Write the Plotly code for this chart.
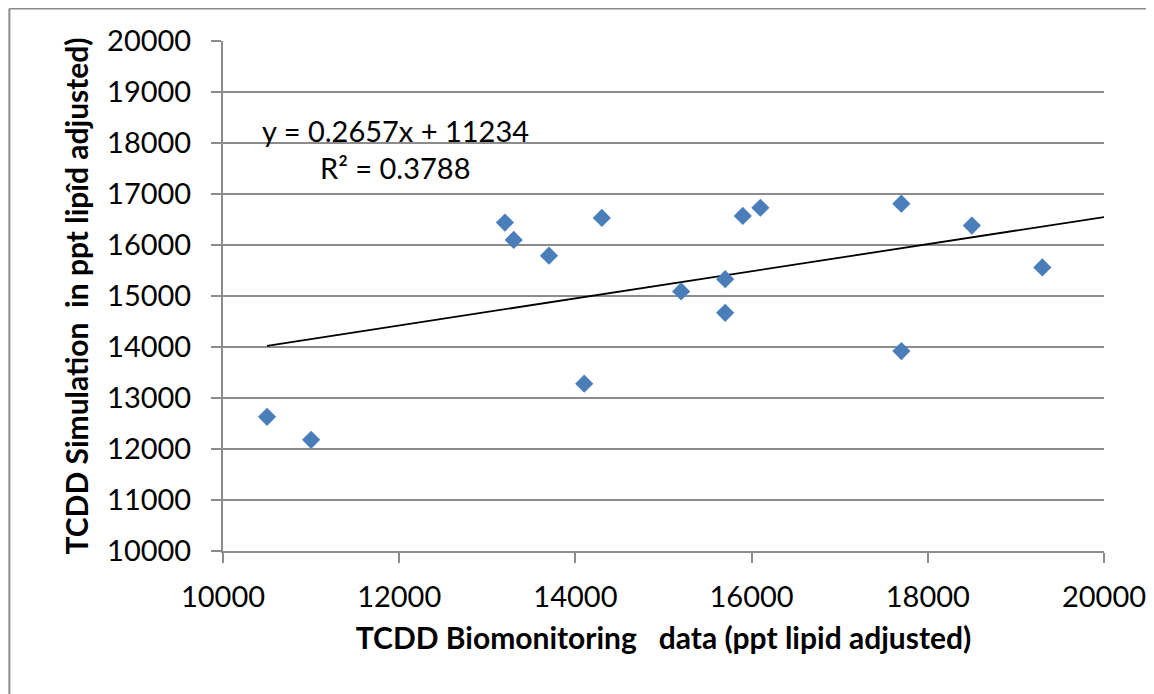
import plotly.graph_objects as go

# biomonitoring (x) vs simulation (y), ppt lipid adjusted
biomonitoring = [10500, 11000, 13200, 13300, 13700, 14100, 14300, 15200, 15700, 15700,
                 15900, 16100, 17700, 17700, 18500, 19300]
simulation = [12630, 12180, 16440, 16100, 15790, 13280, 16530, 15090, 15330, 14670,
              16570, 16730, 16810, 13920, 16380, 15560]

# linear trendline as reported on the chart
slope = 0.2657
intercept = 11234
r_squared = 0.3788
trend_x = [min(biomonitoring), 20000]
trend_y = [slope * v + intercept for v in trend_x]

x_ticks = [10000, 12000, 14000, 16000, 18000, 20000]
y_ticks = list(range(10000, 20001, 1000))

font_family = "Lato, 'Open Sans', sans-serif"
grey = "#8c8c8c"

fig = go.Figure()

fig.add_trace(go.Scatter(
    x=trend_x, y=trend_y, mode='lines',
    line=dict(color='black', width=1.8),
    hoverinfo='skip', showlegend=False
))

fig.add_trace(go.Scatter(
    x=biomonitoring, y=simulation, mode='markers',
    marker=dict(symbol='diamond', color='#4a7ebb', size=14, line=dict(width=0)),
    showlegend=False
))

fig.add_annotation(x=11955, y=18250, xref='x', yref='y', showarrow=False,
                   text=f"y = {slope}x + {intercept}",
                   font=dict(family=font_family, size=29, color='black'))
fig.add_annotation(x=11955, y=17520, xref='x', yref='y', showarrow=False,
                   text=f"R² = {r_squared}",
                   font=dict(family=font_family, size=29, color='black'))

# outer chart border (only top and left edges visible in the frame)
fig.add_shape(type='line', xref='paper', yref='paper',
              x0=-0.2425, y0=1.0635, x1=1.2, y1=1.0635, line=dict(color=grey, width=2))
fig.add_shape(type='line', xref='paper', yref='paper',
              x0=-0.2425, y0=1.0635, x1=-0.2425, y1=-0.4, line=dict(color=grey, width=2))

fig.update_layout(
    width=1154, height=694,
    margin=dict(l=215, r=58, t=33, b=151),
    paper_bgcolor='white', plot_bgcolor='white',
    font=dict(family=font_family, size=29, color='black'),
    xaxis=dict(
        range=[10000, 20000], tickvals=x_ticks, tickformat='d',
        showgrid=False, zeroline=False,
        showline=True, linecolor=grey, linewidth=2,
        ticks='outside', ticklen=10, tickwidth=2, tickcolor=grey,
        ticklabelstandoff=9,
        title=dict(text="<b>TCDD Biomonitoring\u00a0\u00a0 data (ppt lipid adjusted)</b>",
                   font=dict(size=30), standoff=16),
    ),
    yaxis=dict(
        range=[10000, 20000], tickvals=y_ticks, tickformat='d',
        showgrid=True, gridcolor=grey, gridwidth=2,
        zeroline=False,
        showline=True, linecolor=grey, linewidth=2,
        ticks='outside', ticklen=10, tickwidth=2, tickcolor=grey,
        ticklabelstandoff=14,
        title=dict(text="<b>TCDD Simulation\u00a0 in ppt lipîd adjusted)</b>",
                   font=dict(size=30), standoff=10),
    ),
)

fig.write_html("out.html")
